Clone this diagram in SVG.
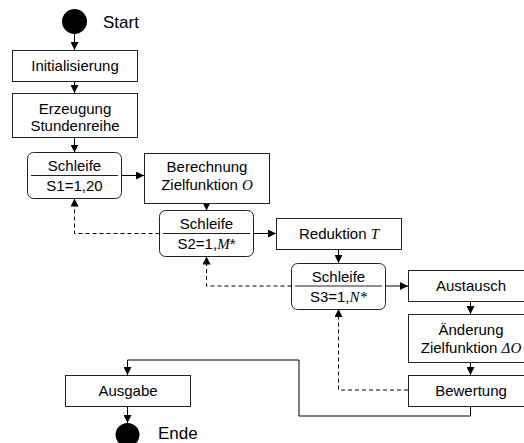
<svg xmlns="http://www.w3.org/2000/svg" width="524" height="443" viewBox="0 0 524 443">
<style>
.box{fill:#fff;stroke:#222;stroke-width:1}
.t{font-family:"Liberation Sans",Arial,sans-serif;font-size:15px;fill:#000;text-anchor:middle}
.lbl{font-family:"Liberation Sans",Arial,sans-serif;font-size:17px;fill:#000}
.m{font-family:"Liberation Serif","Times New Roman",serif;font-style:italic}
.c{fill:none;stroke:#000;stroke-width:1}
.d{fill:none;stroke:#000;stroke-width:1;stroke-dasharray:4 3}
.div{stroke:#222;stroke-width:1}
</style>
<defs>
<marker id="a" markerUnits="userSpaceOnUse" markerWidth="8" markerHeight="8" refX="8" refY="4" orient="auto">
<path d="M0,0 L8,4 L0,8 z" fill="#000"/>
</marker>
</defs>
<rect width="524" height="443" fill="#fff"/>
<g id="connectors">
<path class="c" d="M74.5,34 V50" marker-end="url(#a)"/>
<path class="c" d="M74.5,81 V93" marker-end="url(#a)"/>
<path class="c" d="M74.5,137 V152.5" marker-end="url(#a)"/>
<path class="c" d="M121.5,175.5 H144" marker-end="url(#a)"/>
<path class="c" d="M206.5,203.5 V210.5" marker-end="url(#a)"/>
<path class="c" d="M253.5,233.5 H276" marker-end="url(#a)"/>
<path class="c" d="M338.5,249 V263" marker-end="url(#a)"/>
<path class="c" d="M385.5,286 H408" marker-end="url(#a)"/>
<path class="c" d="M470.5,301 V314" marker-end="url(#a)"/>
<path class="c" d="M470.5,362 V375" marker-end="url(#a)"/>
<path class="c" d="M470.5,406 V416 H299 V360 H127.5 V375" marker-end="url(#a)"/>
<path class="c" d="M127.5,406 V423" marker-end="url(#a)"/>
<path class="d" d="M159.5,233.5 H74.5 V198.5" marker-end="url(#a)"/>
<path class="d" d="M291.5,286 H206.5 V256.5" marker-end="url(#a)"/>
<path class="d" d="M408,390 H338.5 V309" marker-end="url(#a)"/>
</g>
<g id="start">
<circle cx="74.5" cy="21.5" r="12.5" fill="#000"/>
<text class="lbl" x="103" y="28">Start</text>
</g>
<g id="init">
<rect class="box" x="12.5" y="50.5" width="125" height="31"/>
<text class="t" x="75" y="71">Initialisierung</text>
</g>
<g id="erzeugung">
<rect class="box" x="12.5" y="93.5" width="125" height="44"/>
<text class="t" x="75" y="114">Erzeugung</text>
<text class="t" x="75" y="131">Stundenreihe</text>
</g>
<g id="s1">
<rect class="box" x="27.5" y="152.5" width="94" height="46" rx="6"/>
<line class="div" x1="31" y1="175.5" x2="118" y2="175.5"/>
<text class="t" x="74.5" y="171">Schleife</text>
<text class="t" x="74.5" y="191">S1=1,20</text>
</g>
<g id="berechnung">
<rect class="box" x="144.5" y="153.5" width="125" height="50"/>
<text class="t" x="207" y="172">Berechnung</text>
<text class="t" x="207" y="190">Zielfunktion <tspan class="m">O</tspan></text>
</g>
<g id="s2">
<rect class="box" x="159.5" y="210.5" width="94" height="46" rx="6"/>
<line class="div" x1="163" y1="233.5" x2="250" y2="233.5"/>
<text class="t" x="206.5" y="229">Schleife</text>
<text class="t" x="206.5" y="249">S2=1,<tspan class="m">M</tspan>*</text>
</g>
<g id="reduktion">
<rect class="box" x="276.5" y="218.5" width="125" height="31"/>
<text class="t" x="339" y="239">Reduktion <tspan class="m">T</tspan></text>
</g>
<g id="s3">
<rect class="box" x="291.5" y="263.5" width="94" height="46" rx="6"/>
<line class="div" x1="295" y1="286" x2="382" y2="286"/>
<text class="t" x="338.5" y="282">Schleife</text>
<text class="t" x="338.5" y="302">S3=1,<tspan class="m">N*</tspan></text>
</g>
<g id="austausch">
<rect class="box" x="408.5" y="270.5" width="125" height="31"/>
<text class="t" x="471" y="291">Austausch</text>
</g>
<g id="aenderung">
<rect class="box" x="408.5" y="314.5" width="125" height="48"/>
<text class="t" x="471" y="335">Änderung</text>
<text class="t" x="471" y="353">Zielfunktion <tspan class="m">ΔO</tspan></text>
</g>
<g id="bewertung">
<rect class="box" x="408.5" y="375.5" width="125" height="31"/>
<text class="t" x="471" y="396">Bewertung</text>
</g>
<g id="ausgabe">
<rect class="box" x="65.5" y="375.5" width="125" height="31"/>
<text class="t" x="128" y="396">Ausgabe</text>
</g>
<g id="ende">
<circle cx="127.5" cy="435" r="12" fill="#000"/>
<text class="lbl" x="158" y="439">Ende</text>
</g>
</svg>
